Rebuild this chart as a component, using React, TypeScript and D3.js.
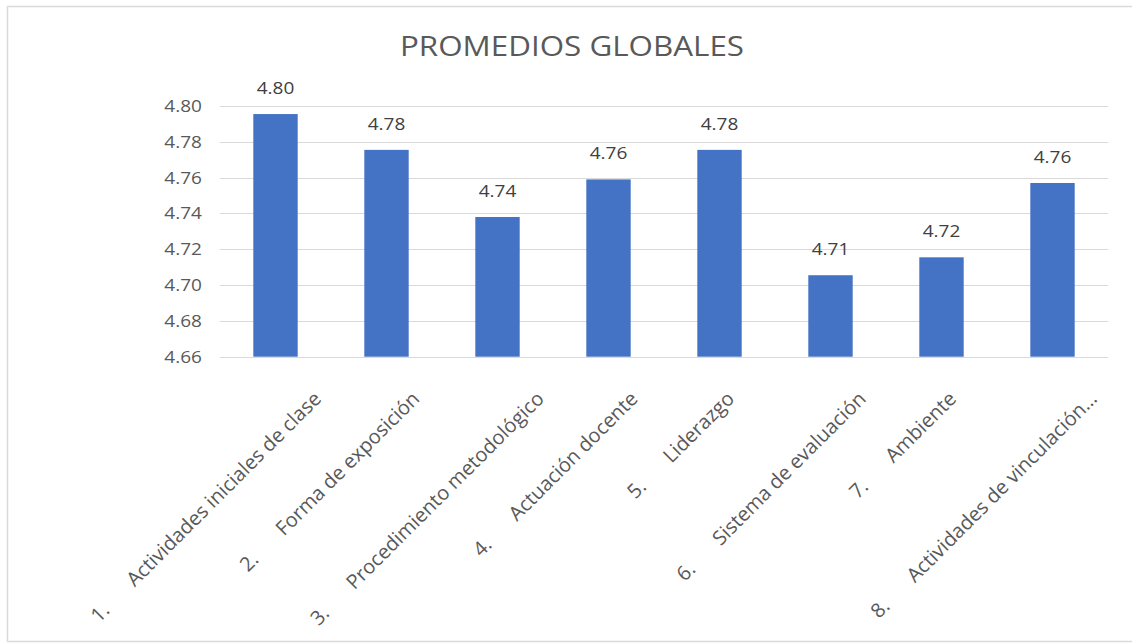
import * as React from 'react';
import { useEffect, useRef } from 'react';
import * as d3 from 'd3';

const categories = [
  'Actividades iniciales de clase',
  'Forma de exposición',
  'Procedimiento metodológico',
  'Actuación docente',
  'Liderazgo',
  'Sistema de evaluación',
  'Ambiente',
  'Actividades de vinculación…',
];
const values = [4.7955, 4.7755, 4.738, 4.759, 4.7755, 4.7055, 4.7155, 4.757];
const yTicks = [4.66, 4.68, 4.7, 4.72, 4.74, 4.76, 4.78, 4.8];

const W = 1132;
const H = 644;
const FONT = '"Open Sans", "Noto Sans", sans-serif';
const TEXT = '#595959';
const SX = 1.12; // the reference looks a little stretched sideways

const App: React.FC = () => {
  const svgRef = useRef<SVGSVGElement>(null);

  useEffect(() => {
    if (!svgRef.current) return;
    const svg = d3.select(svgRef.current);
    svg.selectAll('*').remove();

    const left = 220, right = 1108, top = 106, bottom = 356.7;

    const x = d3.scaleBand<string>().domain(categories).range([left, right]).paddingInner(0.6).paddingOuter(0.3);
    const y = d3.scaleLinear().domain([4.66, 4.8]).range([bottom, top]);

    // frame
    svg.append('rect')
      .attr('x', 7.5).attr('y', 6.5).attr('width', 1130).attr('height', 635)
      .attr('fill', '#fff').attr('stroke', '#d9d9d9').attr('stroke-width', 1.5);

    svg.append('text')
      .attr('transform', `translate(572,56) scale(${SX},1)`)
      .attr('text-anchor', 'middle')
      .attr('font-family', FONT).attr('font-size', 28)
      .attr('fill', TEXT)
      .text('PROMEDIOS GLOBALES');

    // grid
    svg.append('g').selectAll('line').data(yTicks).join('line')
      .attr('x1', left).attr('x2', right)
      .attr('y1', d => Math.round(y(d)) + 0.5).attr('y2', d => Math.round(y(d)) + 0.5)
      .attr('stroke', '#d9d9d9').attr('stroke-width', 1);

    svg.append('g').selectAll('text').data(yTicks).join('text')
      .attr('transform', d => `translate(202,${y(d) + 6}) scale(${SX},1)`)
      .attr('text-anchor', 'end')
      .attr('font-family', FONT).attr('font-size', 17)
      .attr('fill', TEXT)
      .text(d => d.toFixed(2));

    // bars
    svg.append('g').selectAll('rect').data(values).join('rect')
      .attr('x', (_, i) => x(categories[i])!)
      .attr('width', x.bandwidth())
      .attr('y', d => y(d))
      .attr('height', d => bottom - y(d))
      .attr('fill', '#4472c4');

    svg.append('g').selectAll('text').data(values).join('text')
      .attr('transform', (d, i) => `translate(${x(categories[i])! + x.bandwidth() / 2},${y(d) - 20}) scale(${SX},1)`)
      .attr('text-anchor', 'middle')
      .attr('font-family', FONT).attr('font-size', 17)
      .attr('fill', '#404040')
      .text(d => d.toFixed(2));

    // rotated category labels
    const labels = svg.append('g').selectAll('text').data(categories).join('text')
      .attr('text-anchor', 'end')
      .attr('font-family', FONT).attr('font-size', 20)
      .attr('fill', TEXT);
    labels.append('tspan').text((_, i) => `${i + 1}.`);
    labels.append('tspan').attr('dx', 34).text(d => d);

    labels.each(function (d) {
      const el = this as SVGTextElement;
      const len = el.getComputedTextLength();
      const cx = x(d)! + x.bandwidth() / 2;
      const off = 0.177 * len - 3;
      d3.select(el).attr('transform', `translate(${cx + off},400) rotate(-45)`);
    });
  }, []);

  return (
    <svg
      ref={svgRef}
      width={W}
      height={H}
      viewBox={`0 0 ${W} ${H}`}
      style={{ position: 'absolute', left: 0, top: 0, background: '#fff' }}
    />
  );
};

export default App;
